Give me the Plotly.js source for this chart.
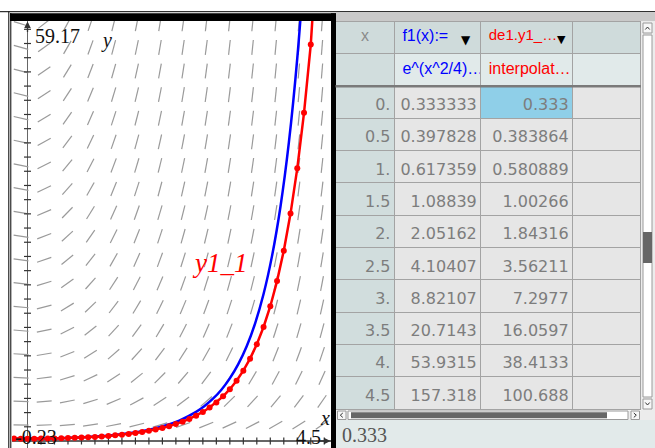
<!DOCTYPE html>
<html>
<head>
<meta charset="utf-8">
<script src="https://cdn.plot.ly/plotly-3.0.1.min.js"></script>
<style>html,body{margin:0;padding:0;background:#fff;}#chart{width:655px;height:448px;}</style>
</head>
<body>
<div id="chart"></div>
<script>
// ---------- data ----------
// table columns
const tableX = [0, 0.5, 1, 1.5, 2, 2.5, 3, 3.5, 4, 4.5];
const tableF1 = [0.333333, 0.397828, 0.617359, 1.08839, 2.05162, 4.10407, 8.82107, 20.7143, 53.9315, 157.318];
const tableDe1 = [0.333, 0.383864, 0.580889, 1.00266, 1.84316, 3.56211, 7.2977, 16.0597, 38.4133, 100.688];
const headerNames = ["x", "f1(x):=", "de1.y1_…", ""];
const headerFormulas = ["", "e^(x^2/4)…", "interpolat…", ""];

// blue curve f1 (sampled values)
const blueX = [-0.25, 0, 0.25, 0.5, 0.75, 1, 1.25, 1.5, 1.75, 2, 2.25, 2.5, 2.625, 2.75, 2.875, 3, 3.125, 3.25, 3.375, 3.5, 3.625, 3.75, 3.875, 4, 4.125];
const blueY = [0.3491, 0.3333, 0.3491, 0.3978, 0.4843, 0.6174, 0.8112, 1.0884, 1.4837, 2.0516, 2.8786, 4.1041, 4.9326, 5.9565, 7.2297, 8.8211, 10.8225, 13.356, 16.5806, 20.714, 26.0465, 32.973, 42.0208, 53.932, 69.713];

// red Euler solution points y1_1
const redX = [-0.3, -0.2, -0.1, 0, 0.1, 0.2, 0.3, 0.4, 0.5, 0.6, 0.7, 0.8, 0.9, 1, 1.1, 1.2, 1.3, 1.4, 1.5, 1.6, 1.7, 1.8, 1.9, 2, 2.1, 2.2, 2.3, 2.4, 2.5, 2.6, 2.7, 2.8, 2.9, 3, 3.1, 3.2, 3.3, 3.4, 3.5, 3.6, 3.7, 3.8, 3.9, 4, 4.1, 4.2, 4.3, 4.4, 4.5];
const redY = [0.348, 0.338, 0.333, 0.333, 0.333, 0.338, 0.348, 0.3633, 0.3839, 0.4101, 0.4424, 0.4813, 0.5272, 0.5809, 0.6433, 0.7153, 0.7982, 0.8934, 1.0027, 1.1279, 1.2714, 1.4362, 1.6254, 1.8432, 2.0941, 2.384, 2.7196, 3.109, 3.5621, 4.0907, 4.7092, 5.4349, 6.2891, 7.2977, 8.4924, 9.912, 11.6046, 13.6293, 16.0597, 18.9878, 22.5256, 26.8161, 32.0379, 38.4133, 46.2317, 55.8458, 67.7134, 82.42, 100.688];

// window settings of the graph
const xMin = -0.23, xMax = 4.5, yMax = 59.17;
const curveLabel = "y1_1";

// ---------- geometry ----------
const W = 655, H = 448;
const PX = x => x / W, PY = y => 1 - y / H;
const plotL = 12, plotR = 331, plotT = 21, plotB = 448, axisY = 441;
const pxPerX = (plotR - plotL) / (xMax - xMin);
const pxPerY = (axisY - plotT) / yMax;
const yMin = -(plotB - axisY) / pxPerY;

// slope field for dy/dx = x(y+2/3)/2
const slope = (x, y) => x * (y + 2 / 3) / 2;
const fx = [], fy = [];
const segLen = 15;
for (let i = 0; i < 14; i++) {
  const cx = -0.096 + 0.3433 * i;
  for (let k = 0; k < 18; k++) {
    const cy = 2.25 + 3.325 * k;
    const s = slope(cx, cy) * pxPerY / pxPerX;
    const ux = segLen / 2 / Math.sqrt(1 + s * s);
    const dx = ux / pxPerX, dy = s * ux / pxPerY;
    fx.push(cx - dx, cx + dx, null);
    fy.push(cy - dy, cy + dy, null);
  }
}
// axis tick marks
const xtX = [], xtY = [], ytX = [], ytY = [];
for (let v = 0.2; v < xMax - 0.05; v += 0.2) { xtX.push(v); xtY.push(0); }
for (let v = 2; v < yMax - 0.5; v += 2) { ytX.push(0); ytY.push(v); }

const fmt = v => Number.isInteger(v) ? v + "." : String(v);

const cHdr = '#cfdbdb', cFrm = '#e1eaea', cXcol = '#d1dddd', cCell = '#e6e6e6', cSel = '#8fcfe8';
const clear = 'rgba(0,0,0,0)';
const n = tableX.length;
const col = c => Array(n).fill(c);
const de1Fill = col(cCell); de1Fill[0] = cSel;
const tblTop = 21, tblBot = 410.5, tblL = 335.5, tblR = 641;
const colW = [59, 86.5, 92, 68];
const hdrH = 32.5, rowH = 32.3;

const traces = [
  {type: 'scatter', mode: 'lines', x: fx, y: fy, line: {color: '#9a9a9a', width: 1.2}, hoverinfo: 'skip', showlegend: false},
  {type: 'scatter', mode: 'markers', x: xtX, y: xtY, marker: {symbol: 'line-ns-open', size: 5, color: '#333', line: {color: '#333', width: 1.2}}, hoverinfo: 'skip', showlegend: false},
  {type: 'scatter', mode: 'markers', x: ytX, y: ytY, marker: {symbol: 'line-ew-open', size: 5, color: '#333', line: {color: '#333', width: 1.2}}, hoverinfo: 'skip', showlegend: false},
  {type: 'scatter', mode: 'lines', x: blueX, y: blueY, line: {color: '#0000ff', width: 2.5, shape: 'spline'}, showlegend: false},
  {type: 'scatter', mode: 'lines+markers', x: redX, y: redY, line: {color: '#ff0000', width: 2.5}, marker: {color: '#ff0000', size: 6}, showlegend: false},
  // table grid, fills and header texts
  {
    type: 'table',
    domain: {x: [PX(tblL), PX(tblR)], y: [PY(tblBot), PY(tblTop)]},
    columnwidth: colW,
    header: {
      values: headerNames.map((h, i) => [h, headerFormulas[i]]),
      height: hdrH,
      align: ['center', 'left', 'left', 'left'],
      fill: {color: [[cHdr, cXcol], [cHdr, cFrm], [cHdr, cFrm], [cHdr, cFrm]]},
      font: {family: 'Liberation Sans', size: [[16, 16], [16, 16], [15, 16], [16, 16]], color: [['#8a8a8a', '#8a8a8a'], ['#0000ff', '#0000ff'], ['#ff0000', '#ff0000'], ['#888', '#888']]},
      line: {color: '#a3a3a3', width: 1}
    },
    cells: {
      values: [col(''), col(''), col(''), col('')],
      height: rowH,
      fill: {color: [col(cXcol), col(cCell), de1Fill, col(cCell)]},
      line: {color: '#a3a3a3', width: 1}
    }
  },
  // table cell values (transparent overlay, nudged to the original's padding)
  {
    type: 'table',
    domain: {x: [PX(tblL + 4), PX(tblR + 4)], y: [PY(tblBot + 4), PY(tblTop + 4)]},
    columnwidth: colW,
    header: {
      values: [['', ''], ['', ''], ['', ''], ['', '']],
      height: hdrH,
      fill: {color: clear},
      line: {color: clear, width: 0}
    },
    cells: {
      values: [tableX.map(fmt), tableF1.map(String), tableDe1.map(String), col('')],
      height: rowH,
      align: 'right',
      fill: {color: clear},
      font: {family: 'DejaVu Sans', size: 16, color: '#7d7d7d'},
      line: {color: clear, width: 0}
    }
  }
];

function rect(x0, y0, x1, y1, fill, lc, lw) {
  return {type: 'rect', xref: 'paper', yref: 'paper', x0: PX(x0), x1: PX(x1), y0: PY(y1), y1: PY(y0),
    fillcolor: fill, line: {color: lc || fill, width: lw || 0}, layer: 'above'};
}
function line(x0, y0, x1, y1, c, w) {
  return {type: 'line', xref: 'paper', yref: 'paper', x0: PX(x0), x1: PX(x1), y0: PY(y0), y1: PY(y1), line: {color: c, width: w}, layer: 'above'};
}
function path(pts, c, w) {
  return {type: 'path', xref: 'paper', yref: 'paper', path: 'M' + pts.map(p => PX(p[0]) + ',' + PY(p[1])).join('L'), line: {color: c, width: w}, layer: 'above'};
}

const shapes = [
  // graph panel frame
  line(0, 11.7, 655, 11.7, '#000', 1),
  rect(10, 13.3, 336, 21, '#000'),
  rect(331, 13.3, 336, 448, '#000'),
  line(8.8, 11.7, 8.8, 448, '#000', 1),
  line(10.8, 13, 10.8, 448, '#000', 1),
  // right panel top band
  rect(336, 12.3, 655, 21, '#c9c9c9'),
  // thick line below formula row
  line(335.5, 86.3, 641, 86.3, '#7a7a7a', 2.5),
  // vertical scrollbar area
  rect(641, 21, 655, 420, '#ececec'),
  rect(643, 23, 652, 33, '#f7f7f7', '#9a9a9a', 1),
  path([[645.3, 29.5], [647.5, 27], [649.7, 29.5]], '#333', 1),
  rect(643, 35, 652, 397, '#ffffff', '#9a9a9a', 1),
  rect(643, 232, 652, 263, '#666666'),
  rect(643, 399, 652, 409, '#f7f7f7', '#9a9a9a', 1),
  path([[645.3, 402.5], [647.5, 405], [649.7, 402.5]], '#333', 1),
  // horizontal scrollbar
  rect(336, 410.5, 641, 420, '#ececec'),
  rect(337.5, 411, 346, 419.5, '#f7f7f7', '#9a9a9a', 1),
  path([[342.8, 413], [340.3, 415.2], [342.8, 417.4]], '#333', 1),
  rect(348, 411, 628, 419.5, '#ffffff', '#9a9a9a', 1),
  rect(351, 412.3, 607, 418.3, '#666666'),
  rect(631, 411, 639.5, 419.5, '#f7f7f7', '#9a9a9a', 1),
  path([[633.8, 413], [636.3, 415.2], [633.8, 417.4]], '#333', 1),
  // entry line
  rect(336, 420, 655, 448, '#e2eaea')
];

const serif = 'Liberation Serif';
const annotations = [
  {xref: 'paper', yref: 'paper', x: PX(33), y: PY(36), xanchor: 'left', yanchor: 'middle', showarrow: false, text: String(yMax), font: {family: serif, size: 20, color: '#111'}},
  {xref: 'paper', yref: 'paper', x: PX(99), y: PY(40), xanchor: 'left', yanchor: 'middle', showarrow: false, text: '<i>y</i>', font: {family: serif, size: 20, color: '#111'}},
  {xref: 'paper', yref: 'paper', x: PX(13), y: PY(437), xanchor: 'left', yanchor: 'middle', showarrow: false, text: String(xMin), font: {family: serif, size: 20, color: '#111'}},
  {xref: 'paper', yref: 'paper', x: PX(323), y: PY(437), xanchor: 'right', yanchor: 'middle', showarrow: false, text: String(xMax), font: {family: serif, size: 20, color: '#111'}},
  {xref: 'paper', yref: 'paper', x: PX(318), y: PY(418), xanchor: 'left', yanchor: 'middle', showarrow: false, text: '<i>x</i>', font: {family: serif, size: 20, color: '#111'}},
  {xref: 'x', yref: 'y', x: 2.85, y: 25.1, xanchor: 'center', yanchor: 'middle', showarrow: false, text: '<i>' + curveLabel + '</i>', font: {family: serif, size: 27, color: '#ff0000'}},
  // axis arrows
  {xref: 'paper', yref: 'paper', x: PX(330.5), y: PY(axisY), ax: -12, ay: 0, showarrow: true, arrowhead: 2, arrowsize: 1, arrowwidth: 1.3, arrowcolor: '#333', text: ''},
  {xref: 'paper', yref: 'paper', x: PX(27.5), y: PY(21.5), ax: 0, ay: 12, showarrow: true, arrowhead: 2, arrowsize: 1, arrowwidth: 1.3, arrowcolor: '#333', text: ''},
  // header drop-down triangles
  {xref: 'paper', yref: 'paper', x: PX(473), y: PY(31), showarrow: false, text: '▼', font: {family: 'DejaVu Sans', size: 12, color: '#000'}},
  {xref: 'paper', yref: 'paper', x: PX(568), y: PY(31), showarrow: false, text: '▼', font: {family: 'DejaVu Sans', size: 11, color: '#000'}},
  // entry line value
  {xref: 'paper', yref: 'paper', x: PX(340), y: PY(435), xanchor: 'left', yanchor: 'middle', showarrow: false, text: String(tableDe1[0]), font: {family: serif, size: 20, color: '#555'}}
];

const layout = {
  width: W, height: H,
  margin: {l: 0, r: 0, t: 0, b: 0},
  paper_bgcolor: '#ffffff', plot_bgcolor: '#ffffff',
  showlegend: false,
  xaxis: {domain: [PX(plotL), PX(plotR)], range: [xMin, xMax], showgrid: false, showticklabels: false, ticks: '', zeroline: true, zerolinecolor: '#666', zerolinewidth: 1.5, showline: false, fixedrange: true},
  yaxis: {domain: [0, PY(plotT)], range: [yMin, yMax], showgrid: false, showticklabels: false, ticks: '', zeroline: true, zerolinecolor: '#666', zerolinewidth: 1.5, showline: false, fixedrange: true},
  shapes: shapes,
  annotations: annotations
};

Plotly.newPlot('chart', traces, layout, {staticPlot: true, displayModeBar: false});
</script>
</body>
</html>
